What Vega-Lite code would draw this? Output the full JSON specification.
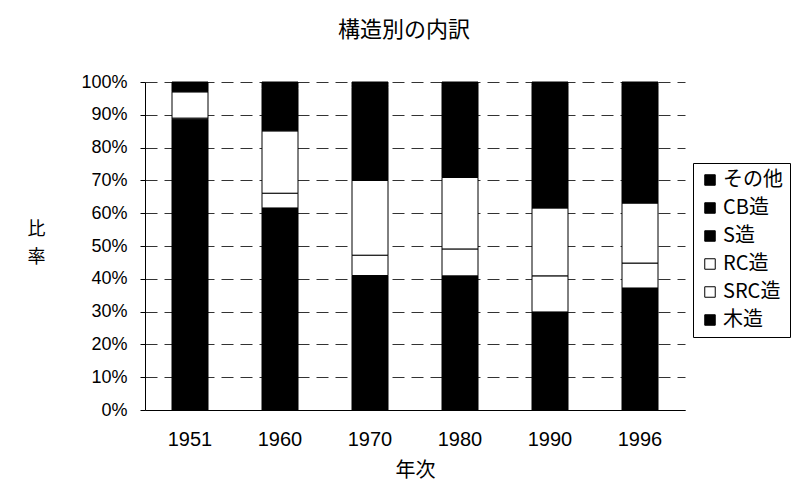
{
  "$schema": "https://vega.github.io/schema/vega-lite/v6.json",
  "autosize": {"type": "none"},
  "width": 540,
  "height": 328,
  "padding": {"left": 145, "top": 82, "right": 113, "bottom": 87},
  "background": "white",
  "title": {
    "text": "構造別の内訳",
    "fontSize": 22,
    "fontWeight": "normal",
    "font": "Noto Sans CJK JP",
    "color": "black",
    "anchor": "middle",
    "offset": 31,
    "dx": -11
  },
  "data": {
    "values": [
      {"年次": "1951", "構造": "木造", "順": 1, "比率": 88.6},
      {"年次": "1951", "構造": "SRC造", "順": 2, "比率": 0.4},
      {"年次": "1951", "構造": "RC造", "順": 3, "比率": 8.0},
      {"年次": "1951", "構造": "S造", "順": 4, "比率": 2.4},
      {"年次": "1951", "構造": "CB造", "順": 5, "比率": 0.3},
      {"年次": "1951", "構造": "その他", "順": 6, "比率": 0.3},
      {"年次": "1960", "構造": "木造", "順": 1, "比率": 61.6},
      {"年次": "1960", "構造": "SRC造", "順": 2, "比率": 4.5},
      {"年次": "1960", "構造": "RC造", "順": 3, "比率": 19.0},
      {"年次": "1960", "構造": "S造", "順": 4, "比率": 12.9},
      {"年次": "1960", "構造": "CB造", "順": 5, "比率": 1.2},
      {"年次": "1960", "構造": "その他", "順": 6, "比率": 0.8},
      {"年次": "1970", "構造": "木造", "順": 1, "比率": 41.0},
      {"年次": "1970", "構造": "SRC造", "順": 2, "比率": 6.2},
      {"年次": "1970", "構造": "RC造", "順": 3, "比率": 22.8},
      {"年次": "1970", "構造": "S造", "順": 4, "比率": 28.3},
      {"年次": "1970", "構造": "CB造", "順": 5, "比率": 1.0},
      {"年次": "1970", "構造": "その他", "順": 6, "比率": 0.7},
      {"年次": "1980", "構造": "木造", "順": 1, "比率": 40.9},
      {"年次": "1980", "構造": "SRC造", "順": 2, "比率": 8.2},
      {"年次": "1980", "構造": "RC造", "順": 3, "比率": 21.8},
      {"年次": "1980", "構造": "S造", "順": 4, "比率": 27.6},
      {"年次": "1980", "構造": "CB造", "順": 5, "比率": 0.8},
      {"年次": "1980", "構造": "その他", "順": 6, "比率": 0.7},
      {"年次": "1990", "構造": "木造", "順": 1, "比率": 29.9},
      {"年次": "1990", "構造": "SRC造", "順": 2, "比率": 11.0},
      {"年次": "1990", "構造": "RC造", "順": 3, "比率": 20.7},
      {"年次": "1990", "構造": "S造", "順": 4, "比率": 37.3},
      {"年次": "1990", "構造": "CB造", "順": 5, "比率": 0.6},
      {"年次": "1990", "構造": "その他", "順": 6, "比率": 0.5},
      {"年次": "1996", "構造": "木造", "順": 1, "比率": 37.2},
      {"年次": "1996", "構造": "SRC造", "順": 2, "比率": 7.6},
      {"年次": "1996", "構造": "RC造", "順": 3, "比率": 18.3},
      {"年次": "1996", "構造": "S造", "順": 4, "比率": 35.9},
      {"年次": "1996", "構造": "CB造", "順": 5, "比率": 0.5},
      {"年次": "1996", "構造": "その他", "順": 6, "比率": 0.5}
    ]
  },
  "mark": {"type": "bar", "stroke": "black", "strokeWidth": 1},
  "encoding": {
    "x": {
      "field": "年次",
      "type": "ordinal",
      "scale": {"paddingInner": 0.6, "paddingOuter": 0.3},
      "axis": {
        "title": "年次",
        "labelAngle": 0,
        "labelFontSize": 20,
        "labelFont": "Liberation Sans, sans-serif",
        "labelColor": "black",
        "labelPadding": 19,
        "ticks": false,
        "domainColor": "black",
        "titleFontSize": 20,
        "titleFont": "Noto Sans CJK JP",
        "titleFontWeight": "normal",
        "titleColor": "black",
        "titlePadding": 11
      }
    },
    "y": {
      "field": "比率",
      "type": "quantitative",
      "stack": "normalize",
      "scale": {"domain": [0, 1], "nice": false},
      "axis": {
        "title": ["比", "率"],
        "titleAngle": 0,
        "titleX": -109,
        "titleY": 147,
        "titleAlign": "center",
        "titleBaseline": "middle",
        "titleLineHeight": 28,
        "titleFontSize": 18,
        "titleFont": "Noto Sans CJK JP",
        "titleFontWeight": "normal",
        "titleColor": "black",
        "format": ".0%",
        "values": [0, 0.1, 0.2, 0.3, 0.4, 0.5, 0.6, 0.7, 0.8, 0.9, 1],
        "labelOverlap": false,
        "labelFontSize": 18,
        "labelFont": "Liberation Sans, sans-serif",
        "labelColor": "black",
        "labelPadding": 13,
        "tickSize": 5,
        "tickColor": "black",
        "domainColor": "black",
        "gridColor": "#333",
        "gridDash": [12, 7],
        "gridWidth": 1
      }
    },
    "order": {"field": "順", "type": "quantitative", "sort": "ascending"},
    "color": {
      "field": "構造",
      "type": "nominal",
      "sort": ["その他", "CB造", "S造", "RC造", "SRC造", "木造"],
      "scale": {
        "domain": ["その他", "CB造", "S造", "RC造", "SRC造", "木造"],
        "range": ["black", "black", "black", "white", "white", "black"]
      },
      "legend": {
        "title": null,
        "orient": "none",
        "legendX": 548,
        "legendY": 81,
        "symbolType": "square",
        "symbolSize": 110,
        "symbolStrokeColor": "black",
        "symbolStrokeWidth": 1,
        "labelFontSize": 20,
        "labelFont": "Noto Sans CJK JP",
        "labelColor": "black",
        "rowPadding": 8,
        "strokeColor": "black",
        "padding": 7,
        "labelOffset": 3
      }
    }
  },
  "config": {
    "view": {"stroke": null}
  }
}
